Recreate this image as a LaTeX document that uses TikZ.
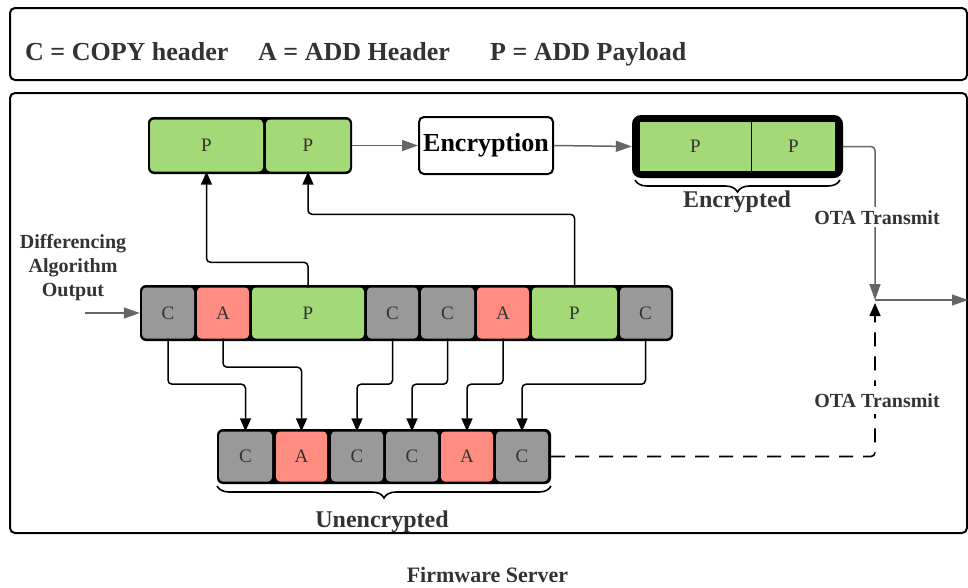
\documentclass[tikz,border=0pt]{standalone}
\usepackage{fontspec}
\setmainfont{Liberation Serif}
\usetikzlibrary{arrows.meta,decorations.pathreplacing}
\definecolor{cgrey}{HTML}{999999}
\definecolor{cred}{HTML}{FF8C80}
\definecolor{cgreen}{HTML}{A3D977}
\definecolor{txt}{HTML}{333333}
\definecolor{agrey}{HTML}{666666}
\tikzset{
  frame/.style={draw=black, line width=2pt, rounded corners=5pt},
  holder/.style={draw=none, fill=black, rounded corners=6pt, inner sep=0pt},
  cell/.style={draw=none, rounded corners=4pt, inner sep=0pt, text=txt, font=\fontsize{19}{21}\selectfont},
  ccell/.style={cell, fill=cgrey},
  acell/.style={cell, fill=cred},
  pcell/.style={cell, fill=cgreen},
  lbl/.style={text=txt, font=\bfseries\fontsize{20}{24}\selectfont, inner sep=0pt},
  biglbl/.style={text=txt, font=\bfseries\fontsize{24}{28}\selectfont, inner sep=0pt},
  conn/.style={draw=black, line width=1.5pt, rounded corners=4pt, -{Triangle[length=13pt,width=11pt]}},
  garrow/.style={draw=agrey, line width=1.5pt, -{Triangle[length=16pt,width=11pt]}},
  dconn/.style={draw=black, line width=1.6pt, dash pattern=on 14pt off 10pt, rounded corners=4pt, -{Triangle[length=13pt,width=11pt]}},
  bracestyle/.style={draw=black, line width=1.6pt, decorate, decoration={brace, mirror, amplitude=12pt}},
}
\begin{document}
\begin{tikzpicture}[x=1pt,y=-1pt]
\useasboundingbox (0,0) rectangle (968,587);
% frames
\draw[frame] (10,8) rectangle (967,80);
\draw[frame] (10,93) rectangle (967,533);
% legend
\node[anchor=base west, text=txt, font=\bfseries\fontsize{26}{30}\selectfont, inner sep=0pt] (lg1) at (25,60) {C = COPY header};
\node[anchor=base west, text=txt, font=\bfseries\fontsize{26}{30}\selectfont, inner sep=0pt] (lg2) at (258,60) {A = ADD Header};
\node[anchor=base west, text=txt, font=\bfseries\fontsize{26}{30}\selectfont, inner sep=0pt] (lg3) at (490,60) {P = ADD Payload};

% top payload group
\node[holder, minimum width=204pt, minimum height=57pt] (top) at (250,145.5) {};
\node[pcell, minimum width=113pt, minimum height=52pt] (t1) at (206.5,145.5) {P};
\node[pcell, minimum width=84pt, minimum height=52pt] (t2) at (308,145.5) {P};

% encryption
\node[draw=black, line width=2pt, rounded corners=5pt, fill=white, minimum width=134pt, minimum height=57pt, inner sep=0pt, font=\bfseries\fontsize{26}{30}\selectfont] (enc) at (486,145.5) {Encryption};

% encrypted group
\node[holder, rounded corners=9pt, minimum width=211pt, minimum height=63pt] (encd) at (737.5,146.5) {};
\node[pcell, rounded corners=0pt, minimum width=111pt, minimum height=49pt] (e1) at (695.5,146.5) {P};
\node[pcell, rounded corners=0pt, minimum width=83pt, minimum height=49pt] (e2) at (793.5,146.5) {P};
\draw[bracestyle] (635,180) -- (840,180);
\node[biglbl, anchor=base] (encl) at (737,207) {Encrypted};

% middle row
\node[holder, minimum width=533pt, minimum height=56pt] (mid) at (406.5,313) {};
\node[ccell, minimum width=52pt, minimum height=51pt] (m1) at (168,313) {C};
\node[acell, minimum width=52pt, minimum height=51pt] (m2) at (223,313) {A};
\node[pcell, minimum width=112pt, minimum height=51pt] (m3) at (308,313) {P};
\node[ccell, minimum width=51pt, minimum height=51pt] (m4) at (392.5,313) {C};
\node[ccell, minimum width=53pt, minimum height=51pt] (m5) at (447.5,313) {C};
\node[acell, minimum width=52pt, minimum height=51pt] (m6) at (503,313) {A};
\node[pcell, minimum width=85pt, minimum height=51pt] (m7) at (574.5,313) {P};
\node[ccell, minimum width=51pt, minimum height=51pt] (m8) at (645.5,313) {C};

% bottom row
\node[holder, minimum width=334pt, minimum height=55pt] (bot) at (384,456.5) {};
\node[ccell, minimum width=53pt, minimum height=50pt] (b1) at (245.5,456.5) {C};
\node[acell, minimum width=51pt, minimum height=50pt] (b2) at (301.5,456.5) {A};
\node[ccell, minimum width=52pt, minimum height=50pt] (b3) at (357,456.5) {C};
\node[ccell, minimum width=52pt, minimum height=50pt] (b4) at (412,456.5) {C};
\node[acell, minimum width=52pt, minimum height=50pt] (b5) at (467,456.5) {A};
\node[ccell, minimum width=52pt, minimum height=50pt] (b6) at (522,456.5) {C};
\draw[bracestyle] (217,486) -- (551,486);
\node[biglbl, anchor=base] (unl) at (382,527) {Unencrypted};

% input label
\node[lbl, anchor=base] (d1) at (73,248) {Differencing};
\node[lbl, anchor=base] (d2) at (73,272) {Algorithm};
\node[lbl, anchor=base] (d3) at (73,296) {Output};
\coordinate (inp) at (85,313);
\draw[garrow] (inp) -- (mid.west);

% down connectors
\draw[conn] (m1.south) -- ++(0,45.5) -| (b1.north);
\draw[conn] (m2.south) -- ++(0,28.5) -| (b2.north);
\draw[conn] (m4.south) -- ++(0,45.5) -| (b3.north);
\draw[conn] (m5.south) -- ++(0,45.5) -| (b4.north);
\draw[conn] (m6.south) -- ++(0,45.5) -| (b5.north);
\draw[conn] (m8.south) -- ++(0,45.5) -| (b6.north);

% up connectors
\draw[conn] (m3.north) -- ++(0,-25) -| (t1.south);
\draw[conn] (m7.north) -- ++(0,-73) -| (t2.south);

% grey flow
\draw[garrow] (top.east) -- (enc.west);
\draw[garrow] (enc.east) -- (encd.west);
\coordinate (j) at (875,300);
\coordinate (jb) at (875,303);
\coordinate (outp) at (968,300);
\draw[garrow, rounded corners=4pt] (encd.east) -| (j);
\draw[garrow] (j) -- (outp);
\draw[dconn] (bot.east) -| (jb);

\node[lbl, anchor=base, fill=white, inner sep=3pt] (ota1) at (877,224) {OTA Transmit};
\node[lbl, anchor=base, fill=white, inner ysep=7pt, inner xsep=3pt] (ota2) at (877,407) {OTA Transmit};

% footer
\node[text=txt, font=\bfseries\fontsize{22}{26}\selectfont, anchor=base, inner sep=0pt] (fs) at (487.5,582) {Firmware Server};
\end{tikzpicture}
\end{document}
